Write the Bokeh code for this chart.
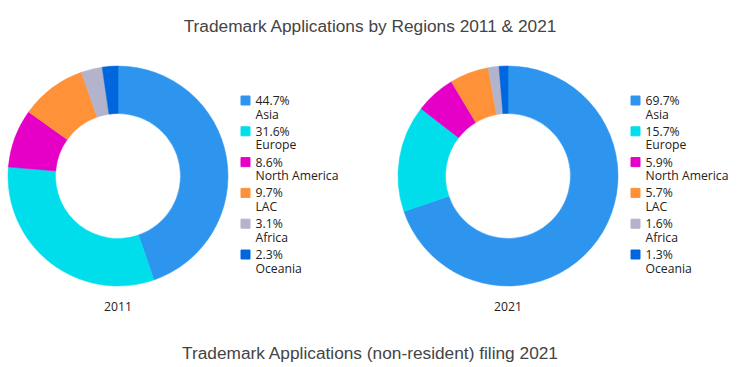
import numpy as np
from bokeh.plotting import figure
from bokeh.models import ColumnDataSource, Range1d
from bokeh.core.properties import value
from bokeh.embed import file_html
from bokeh.resources import INLINE

regions = ["Asia", "Europe", "North America", "LAC", "Africa", "Oceania"]
share_2011 = [44.7, 31.6, 8.6, 9.7, 3.1, 2.3]
share_2021 = [69.7, 15.7, 5.9, 5.7, 1.6, 1.3]
colors = ["#2E95EF", "#00DEEC", "#E600C7", "#FF9139", "#B3B3CB", "#0066DE"]
years = ["2011", "2021"]
title_top = "Trademark Applications by Regions 2011 & 2021"
title_bottom = "Trademark Applications (non-resident) filing 2021"

W, H = 740, 365
p = figure(width=W, height=H, output_backend="svg", toolbar_location=None,
           x_range=Range1d(0, W), y_range=Range1d(0, H), min_border=0)
p.axis.visible = False
p.grid.visible = False
p.outline_line_color = None
p.background_fill_color = "white"

def Y(img_y):
    return H - img_y

centers_x = [117.5, 507.5]
center_y = Y(175.5)
r_out, r_in = 110, 62.5

for cx, shares, year in zip(centers_x, [share_2011, share_2021], years):
    s = np.array(shares, dtype=float)
    frac = s / s.sum()
    cum = np.concatenate([[0], np.cumsum(frac)])
    start = np.pi / 2 - cum[:-1] * 2 * np.pi
    end = np.pi / 2 - cum[1:] * 2 * np.pi
    src = ColumnDataSource(dict(start=start, end=end, color=colors,
                                x=[cx] * len(s), y=[center_y] * len(s)))
    p.annular_wedge(x="x", y="y", inner_radius=r_in, outer_radius=r_out,
                    start_angle="start", end_angle="end", direction="clock",
                    fill_color="color", line_color="color", line_width=0.5,
                    source=src)
    # year label
    p.text(x=[cx], y=[Y(306)], text=[year], text_align="center", text_baseline="middle",
           text_font=value("Open Sans"), text_font_size="12.2px", text_color="#222222")
    # legend
    lx = cx + 127.5
    tx = cx + 137.5
    n = len(s)
    row_y = np.array([Y(100) - 30.8 * i for i in range(n)])
    p.rect(x=[lx] * n, y=row_y, width=9, height=9, fill_color=colors, line_color=colors)
    p.text(x=[tx] * n, y=row_y, text=[f"{v:.1f}%" for v in shares],
           text_align="left", text_baseline="middle", text_font=value("Open Sans"),
           text_font_size="12.2px", text_color="#222222")
    p.text(x=[tx] * n, y=row_y - 13.5, text=regions,
           text_align="left", text_baseline="middle", text_font=value("Open Sans"),
           text_font_size="12.2px", text_color="#222222")

p.text(x=[370], y=[Y(25)], text=[title_top], text_align="center", text_baseline="middle",
       text_font=value("Liberation Sans"), text_font_size="17.3px", text_color="#444444")
p.text(x=[370], y=[Y(352)], text=[title_bottom], text_align="center", text_baseline="middle",
       text_font=value("Liberation Sans"), text_font_size="17.3px", text_color="#444444")

open("out.html", "w").write(file_html(p, INLINE))
